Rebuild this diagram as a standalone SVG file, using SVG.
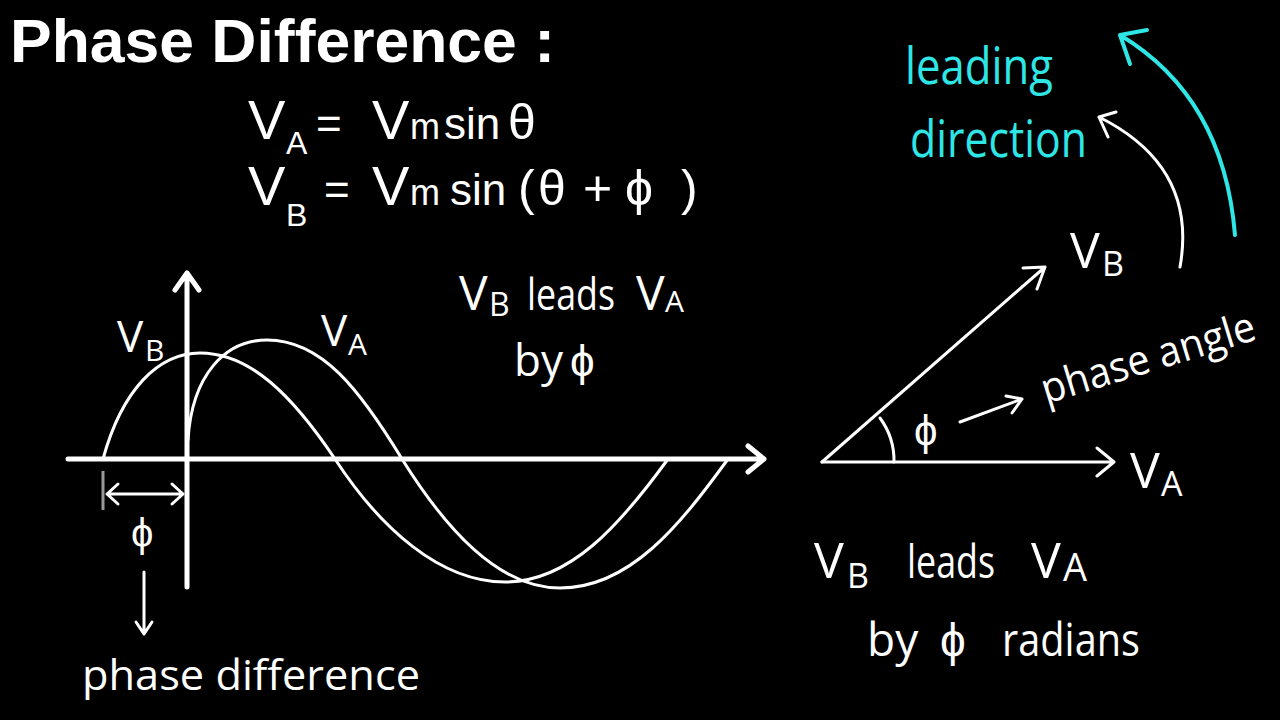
<svg xmlns="http://www.w3.org/2000/svg" width="1280" height="720" viewBox="0 0 1280 720">
<defs>
<style>
.t{font-family:"Open Sans","Liberation Sans",sans-serif;fill:#fff;}
.e{font-family:"Liberation Sans",Arial,sans-serif;fill:#fff;}
.c{fill:#2ee6e6;}
.ln{fill:none;stroke:#fff;stroke-width:3;stroke-linecap:round;stroke-linejoin:round;}
.ax{fill:none;stroke:#fff;stroke-width:5;stroke-linecap:round;stroke-linejoin:round;}
.cy{fill:none;stroke:#2ee6e6;stroke-width:4;stroke-linecap:round;stroke-linejoin:round;}
</style>
</defs>
<rect width="1280" height="720" fill="#000"/>

<g id="title">
<text x="10" y="62" font-family="Liberation Sans, Arial, sans-serif" font-weight="bold" font-size="62" fill="#fff" textLength="545" lengthAdjust="spacingAndGlyphs">Phase Difference :</text>
</g>

<g id="equations" class="e">
<text x="248" y="139" font-size="56">V</text>
<text x="286" y="154" font-size="32">A</text>
<text y="139" font-size="56"><tspan x="316" font-size="44">=</tspan><tspan x="372">V</tspan><tspan x="410" font-size="36">m</tspan><tspan x="444" font-size="44">sin</tspan><tspan x="508" font-size="50">θ</tspan></text>
<text x="248" y="205" font-size="56">V</text>
<text x="286" y="226" font-size="32">B</text>
<text y="205" font-size="56"><tspan x="324" font-size="44">=</tspan><tspan x="372">V</tspan><tspan x="410" font-size="36">m</tspan><tspan x="450" font-size="44">sin</tspan><tspan x="518" font-size="50">(</tspan><tspan x="538" font-size="50">θ</tspan><tspan x="583" font-size="50">+</tspan><tspan x="625" font-size="50">ϕ</tspan><tspan x="681" font-size="50">)</tspan></text>
</g>

<g id="axes">
<path class="ax" d="M68,459 H764 M748,446 L764,459 L748,472"/>
<path class="ax" d="M187,587 V273 M175,290 L187,273 L199,290"/>
</g>

<g id="waves">
<path class="ln" d="M103,459 C122,390 158,353 200,353 C250,353 292,395 335,459 C380,528 440,582 505,582 C570,582 620,525 668,459"/>
<path class="ln" d="M188,440 C192,375 225,340 267,340 C322,340 360,390 402,459 C445,528 498,588 560,588 C630,588 680,525 728,459"/>
<text class="t" y="352" font-size="44"><tspan x="117">V</tspan><tspan x="145" y="361" font-size="30">B</tspan></text>
<text class="t" y="346" font-size="44"><tspan x="321">V</tspan><tspan x="348" y="355" font-size="30">A</tspan></text>
</g>

<g id="lead-text-1" class="t">
<text y="310" font-size="48"><tspan x="459">V</tspan><tspan x="489" y="316" font-size="32">B</tspan></text>
<text x="527" y="310" font-size="44" textLength="88" lengthAdjust="spacingAndGlyphs">leads</text>
<text y="310" font-size="48"><tspan x="636">V</tspan><tspan x="665" y="312" font-size="30">A</tspan></text>
<text y="376" font-size="44"><tspan x="514">by</tspan><tspan x="570">ϕ</tspan></text>
</g>

<g id="phi-marker">
<line x1="103" y1="471" x2="103" y2="510" stroke="#999" stroke-width="3"/>
<path class="ln" d="M107,494 H183 M118,484 L107,494 L118,504 M172,484 L183,494 L172,504"/>
<text class="t" x="131" y="547" font-size="40">ϕ</text>
<path class="ln" stroke-width="2.5" d="M144,572 V634 M136,622 L144,634 L152,622"/>
<text class="t" x="82" y="690" font-size="42" textLength="338" lengthAdjust="spacingAndGlyphs">phase  difference</text>
</g>

<g id="phasor">
<path class="ln" d="M822,462 H1114 M1097,448 L1114,462 L1097,476"/>
<path class="ln" d="M822,462 L1045,267 M1023,268 L1045,267 L1037,289"/>
<path class="ln" d="M894,462 A72 72 0 0 0 880,418"/>
<text class="t" x="914" y="445" font-size="42">ϕ</text>
<path class="ln" d="M960,422 L1022,399 M1006,396 L1022,399 L1012,413"/>
<text class="t" transform="translate(1046,404) rotate(-17)" font-size="42" textLength="222" lengthAdjust="spacingAndGlyphs">phase  angle</text>
<text class="t" y="268" font-size="50"><tspan x="1070">V</tspan><tspan x="1102" y="276" font-size="34">B</tspan></text>
<text class="t" y="488" font-size="50"><tspan x="1130">V</tspan><tspan x="1161" y="496" font-size="34">A</tspan></text>
</g>

<g id="leading-arrows">
<path class="ln" d="M1180,267 C1192,200 1165,150 1099,117 M1116,112 L1099,117 L1108,137"/>
<path class="cy" d="M1235,235 C1228,150 1195,80 1120,35 M1147,30 L1120,35 L1130,64"/>
<text class="t c" x="905" y="84" font-size="52" textLength="148" lengthAdjust="spacingAndGlyphs">leading</text>
<text class="t c" x="910" y="157" font-size="52" textLength="177" lengthAdjust="spacingAndGlyphs">direction</text>
</g>

<g id="lead-text-2" class="t">
<text y="578" font-size="50"><tspan x="814">V</tspan><tspan x="847" y="588" font-size="34">B</tspan></text>
<text x="907" y="578" font-size="46" textLength="88" lengthAdjust="spacingAndGlyphs">leads</text>
<text y="578" font-size="50"><tspan x="1031">V</tspan><tspan x="1063" y="581" font-size="38">A</tspan></text>
<text y="656" font-size="46"><tspan x="867">by</tspan><tspan x="940">ϕ</tspan></text>
<text x="1002" y="656" font-size="46" textLength="138" lengthAdjust="spacingAndGlyphs">radians</text>
</g>
</svg>
